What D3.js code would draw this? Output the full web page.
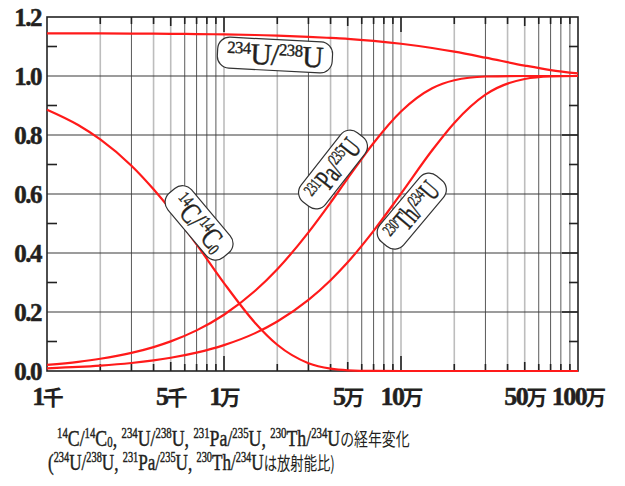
<!DOCTYPE html>
<html><head><meta charset="utf-8">
<script src="https://cdn.jsdelivr.net/npm/d3@7"></script>
<style>body{margin:0;background:#fff}svg{display:block}</style>
</head><body>
<script>
// ---- data ----
const years = [1000,1500,2000,3000,4000,5000,7000,10000,15000,20000,30000,40000,50000,70000,100000,150000,200000,300000,500000,700000,1000000];
const c14   = [0.886,0.834,0.785,0.696,0.616,0.546,0.429,0.298,0.163,0.089,0.0265,0.0079,0.0024,0.0002,0,0,0,0,0,0,0];
const u234  = [1.1446,1.1444,1.1442,1.1438,1.1434,1.143,1.1422,1.141,1.1389,1.1369,1.1329,1.129,1.1259,1.119,1.1093,1.0949,1.0824,1.0622,1.0354,1.0201,1.0086];
const pa231 = [0.0209,0.0312,0.0414,0.0615,0.0811,0.1004,0.1377,0.1907,0.2719,0.345,0.4701,0.571,0.6529,0.7728,0.8795,0.9582,0.9855,0.9983,1.0,1.0,1.0];
const th230 = [0.0092,0.0137,0.0182,0.0272,0.0361,0.0449,0.0623,0.0878,0.1284,0.168,0.241,0.3078,0.3686,0.4752,0.6013,0.7482,0.841,0.9366,0.9899,0.9984,1.0];
const yTickLabels = ["0.0","0.2","0.4","0.6","0.8","1.0","1.2"];
const yTickValues = [0,0.2,0.4,0.6,0.8,1.0,1.2];
const yMinorValues = [0.1,0.3,0.5,0.7,0.9,1.1];
const xLabelValues = [1000,5000,10000,50000,100000,500000,1000000];
const xLabelNums  = ["1","5","1","5","10","50","100"];
const xLabelUnits = ["千","千","万","万","万","万","万"];
// annotation labels (data coords of centre)
const labelX = [19400, 7230, 41300, 115000];
const labelY = [1.071, 0.502, 0.683, 0.542];
const labelAngle = [3, 50, -52, -50];
const labelW = [115, 84, 88, 86];

const W=625,H=486;
const L=47,R=578,T=17,B=371;
const svg=d3.select("body").append("svg").attr("width",W).attr("height",H);
const x=d3.scaleLog().domain([1000,1000000]).range([L,R]);
const y=d3.scaleLinear().domain([0,1.2]).range([B,T]);

const serif="'Liberation Serif','Times New Roman',serif";
const cjk="'Noto Sans CJK JP',sans-serif";
const ink="#231f20";

// vertical grid
const minor=[];
for(let d=1000; d<1000000; d*=10){ for(let m=1;m<10;m++){ minor.push({v:d*m,m:m}); } }
const g=svg.append("g");
minor.filter(o=>o.v>1000).forEach(o=>{
  const dark=[3,6,7,8,9].includes(o.m);
  g.append("line").attr("x1",x(o.v)).attr("x2",x(o.v)).attr("y1",T).attr("y2",B)
   .attr("stroke",dark?"#5a5a5a":"#bdbdbd").attr("stroke-width",dark?1:1.6);
});
// horizontal grid
yTickValues.slice(1,6).forEach(v=>{
  g.append("line").attr("x1",L).attr("x2",R).attr("y1",y(v)).attr("y2",y(v)).attr("stroke","#3a3a3a").attr("stroke-width",1.2);
});
// minor y ticks
yMinorValues.forEach(v=>{
  g.append("line").attr("x1",L).attr("x2",L+10).attr("y1",y(v)).attr("y2",y(v)).attr("stroke","#222").attr("stroke-width",1.6);
  g.append("line").attr("x1",R-9).attr("x2",R).attr("y1",y(v)).attr("y2",y(v)).attr("stroke","#222").attr("stroke-width",1.6);
});
yTickValues.slice(1,6).forEach(v=>{
  g.append("line").attr("x1",R-16).attr("x2",R).attr("y1",y(v)).attr("y2",y(v)).attr("stroke","#222").attr("stroke-width",1.6);
});
// x ticks top/bottom
minor.filter(o=>o.v>1000).forEach(o=>{
  const len = o.m===1 ? 15 : (o.m===5?9:7);
  g.append("line").attr("x1",x(o.v)).attr("x2",x(o.v)).attr("y1",T).attr("y2",T+len).attr("stroke","#222").attr("stroke-width",1.6);
  g.append("line").attr("x1",x(o.v)).attr("x2",x(o.v)).attr("y1",B).attr("y2",B-len).attr("stroke","#222").attr("stroke-width",1.6);
});
// frame
svg.append("rect").attr("x",L).attr("y",T).attr("width",R-L).attr("height",B-T).attr("fill","none").attr("stroke","#222").attr("stroke-width",1.6);

// curves
const line=d3.line().x((d,i)=>x(years[i])).y(d=>y(d)).curve(d3.curveMonotoneX);
[u234,c14,pa231,th230].forEach(s=>{
  svg.append("path").attr("d",line(s)).attr("fill","none").attr("stroke","#ff1a1a").attr("stroke-width",2.2);
});

// y labels
yTickValues.forEach((v,i)=>{
  svg.append("text").attr("x",41).attr("y",y(v)).attr("dy","0.35em").attr("text-anchor","end")
    .attr("font-family",serif).attr("font-weight","bold").attr("font-size",25).attr("letter-spacing",-1.5)
    .attr("fill",ink).attr("stroke",ink).attr("stroke-width",0.5).text(yTickLabels[i]);
});
// x labels
xLabelValues.forEach((v,i)=>{
  const t=svg.append("text").attr("x",x(v)+1).attr("y",405).attr("text-anchor","middle").attr("fill",ink).attr("font-weight","bold");
  t.append("tspan").attr("font-family",serif).attr("font-size",26).attr("letter-spacing",-1.5)
    .attr("stroke",ink).attr("stroke-width",0.5).text(xLabelNums[i]);
  t.append("tspan").attr("font-family",cjk).attr("font-size",21).attr("dx",-1).text(xLabelUnits[i]);
});

// rich text helper
function rich(t, parts, big, small, cjkFactor){
  let shift=0;
  parts.forEach(p=>{
    const [s,k]=p;
    const ts=t.append("tspan").text(s);
    let target=0;
    if(k==="s"){ ts.attr("font-size",small); target=-big*0.33; }
    else if(k==="b"){ ts.attr("font-size",small); target=big*0.06; }
    else if(k==="j"){ ts.attr("font-size",big*(cjkFactor||0.9)).attr("font-family",cjk).attr("stroke-width",0); }
    else { ts.attr("font-size",big); }
    ts.attr("dy",target-shift); shift=target;
  });
}
// fit a text horizontally into width w by scaling x
function fitX(t, w, anchorStart, x0, y0){
  const bw=t.node().getBBox().width;
  const k=Math.min(1,w/bw);
  if(anchorStart){ t.attr("x",0).attr("y",0).attr("transform",`translate(${x0},${y0}) scale(${k},1)`); }
  else { t.attr("transform",`scale(${k},1)`); }
}
const labelParts=[
  [["234","s"],["U","n"],["/","n"],["238","s"],["U","n"]],
  [["14","s"],["C","n"],["/","n"],["14","s"],["C","n"],["0","b"]],
  [["231","s"],["Pa","n"],["/","n"],["235","s"],["U","n"]],
  [["230","s"],["Th","n"],["/","n"],["234","s"],["U","n"]]
];
labelParts.forEach((parts,i)=>{
  const gg=svg.append("g").attr("transform",`translate(${x(labelX[i])},${y(labelY[i])}) rotate(${labelAngle[i]})`);
  gg.append("rect").attr("x",-labelW[i]/2).attr("y",-15.5).attr("width",labelW[i]).attr("height",31).attr("rx",12)
    .attr("fill","#fff").attr("stroke","#333").attr("stroke-width",1.2);
  const t=gg.append("text").attr("x",0).attr("y",10).attr("text-anchor","middle").attr("font-family",serif)
    .attr("fill",ink).attr("stroke",ink).attr("stroke-width",0.4).attr("letter-spacing",-0.5);
  rich(t,parts,30,17);
  fitX(t,labelW[i]-18,false);
});

// caption
const cap1=[["14","s"],["C/","n"],["14","s"],["C","n"],["0","b"],[", ","n"],["234","s"],["U/","n"],["238","s"],["U, ","n"],["231","s"],["Pa/","n"],["235","s"],["U, ","n"],["230","s"],["Th/","n"],["234","s"],["U","n"],["の経年変化","j"]];
const cap2=[["(","n"],["234","s"],["U/","n"],["238","s"],["U, ","n"],["231","s"],["Pa/","n"],["235","s"],["U, ","n"],["230","s"],["Th/","n"],["234","s"],["U","n"],["は放射能比)","j"]];
const t1=svg.append("text").attr("font-family",serif).attr("fill",ink).attr("stroke",ink).attr("stroke-width",0.45);
rich(t1,cap1,24,14.5,0.78);
fitX(t1,353,true,57,446);
const t2=svg.append("text").attr("font-family",serif).attr("fill",ink).attr("stroke",ink).attr("stroke-width",0.45);
rich(t2,cap2,24,14.5,0.78);
fitX(t2,287,true,48,470);
</script>
</body></html>
